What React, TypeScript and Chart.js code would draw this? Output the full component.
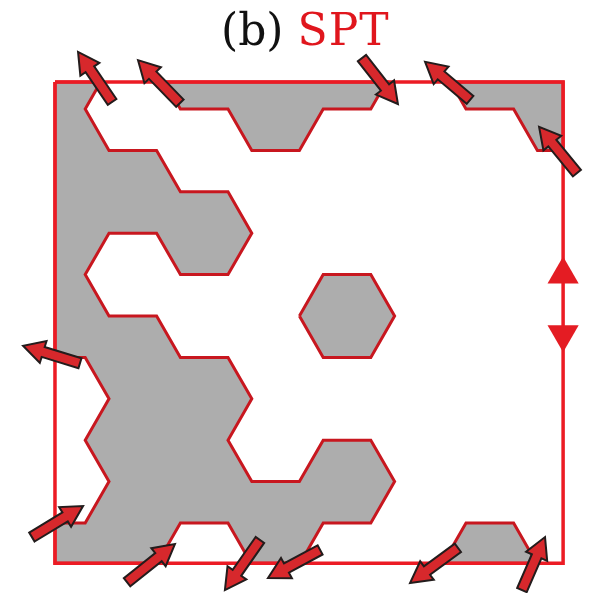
import React, { useEffect, useRef } from 'react';
import { Chart, registerables } from 'chart.js';

Chart.register(...registerables);

// Coordinates in hexagonal-lattice units: x = half a hexagon side, y = half a hexagon height
const frameX = [-12.27, 9.08];
const frameY = [-5.65, 5.97];

const mainRegion: [number, number][] = [
  [-12.27, -5.65], [-10.35, -5.65], [-11, -5], [-10, -4], [-8, -4], [-7, -3], [-5, -3],
  [-4, -2], [-5, -1], [-7, -1], [-8, -2], [-10, -2], [-11, -1], [-10, 0], [-8, 0],
  [-7, 1], [-5, 1], [-4, 2], [-5, 3], [-4, 4], [-2, 4], [-1, 3], [1, 3], [2, 4],
  [1, 5], [-1, 5], [-1.97, 5.97], [-4.03, 5.97], [-5, 5], [-7, 5], [-7.97, 5.97],
  [-12.27, 5.97], [-12.27, 5], [-11, 5], [-10, 4], [-11, 3], [-10, 2], [-11, 1],
  [-12.27, 1], [-12.27, -5.65],
];
const topStrip: [number, number][] = [
  [-7.65, -5.65], [-7, -5], [-5, -5], [-4, -4], [-2, -4], [-1, -5], [1, -5], [1.65, -5.65], [-7.65, -5.65],
];
const topRightCorner: [number, number][] = [
  [4.35, -5.65], [5, -5], [7, -5], [8, -4], [9.08, -4], [9.08, -5.65], [4.35, -5.65],
];
const bottomRightPatch: [number, number][] = [
  [4.03, 5.97], [5, 5], [7, 5], [7.97, 5.97], [4.03, 5.97],
];
const centralHexagon: [number, number][] = [
  [-2, 0], [-1, -1], [1, -1], [2, 0], [1, 1], [-1, 1], [-2, 0],
];

const arrowTails: [number, number][] = [
  [-9.87, -5.17], [-7.02, -5.14], [0.63, -6.23], [5.17, -5.22], [9.66, -3.45], [-11.22, 1.14],
  [-13.24, 5.34], [-9.24, 6.43], [-3.66, 5.41], [-1.13, 5.65], [4.66, 5.6], [7.35, 6.62],
];
const arrowTips: [number, number][] = [
  [-11.3, -6.38], [-8.78, -6.18], [2.14, -5.12], [3.28, -6.14], [8.07, -4.57], [-13.61, 0.72],
  [-11.09, 4.59], [-7.23, 5.51], [-5.13, 6.62], [-3.32, 6.33], [2.65, 6.45], [8.32, 5.34],
];

const triangleX = [9.08, 9.08];
const triangleY = [-1.0, 0.44];
const triangleRotation = [0, 180];

const toPoints = (poly: [number, number][]) => poly.map(([x, y]) => ({ x, y }));

const arrowPlugin = {
  id: 'arrows',
  afterDatasetsDraw(chart: any) {
    const { ctx } = chart;
    const sx = chart.scales.x;
    const sy = chart.scales.y;
    ctx.save();
    arrowTails.forEach((tail, i) => {
      const tip = arrowTips[i];
      const x0 = sx.getPixelForValue(tail[0]);
      const y0 = sy.getPixelForValue(tail[1]);
      const x1 = sx.getPixelForValue(tip[0]);
      const y1 = sy.getPixelForValue(tip[1]);
      const dx = x1 - x0;
      const dy = y1 - y0;
      const len = Math.hypot(dx, dy);
      const ux = dx / len;
      const uy = dy / len;
      const nx = -uy;
      const ny = ux;
      const hl = 21;
      const hw = 11.5;
      const sw = 5.2;
      const bx = x1 - ux * hl;
      const by = y1 - uy * hl;
      ctx.beginPath();
      ctx.moveTo(x0 + nx * sw, y0 + ny * sw);
      ctx.lineTo(bx + nx * sw, by + ny * sw);
      ctx.lineTo(bx + nx * hw, by + ny * hw);
      ctx.lineTo(x1, y1);
      ctx.lineTo(bx - nx * hw, by - ny * hw);
      ctx.lineTo(bx - nx * sw, by - ny * sw);
      ctx.lineTo(x0 - nx * sw, y0 - ny * sw);
      ctx.closePath();
      ctx.fillStyle = '#d7282c';
      ctx.fill();
      ctx.lineWidth = 2;
      ctx.lineJoin = 'miter';
      ctx.strokeStyle = '#231c1c';
      ctx.stroke();
    });
    ctx.restore();
  },
};

export default function App() {
  const canvasRef = useRef<HTMLCanvasElement | null>(null);

  useEffect(() => {
    if (!canvasRef.current) return;
    const region = (data: [number, number][]) => ({
      type: 'scatter' as const,
      data: toPoints(data),
      showLine: true,
      fill: 'shape',
      backgroundColor: '#adadad',
      borderColor: '#c8171f',
      borderWidth: 3,
      borderJoinStyle: 'miter' as const,
      pointRadius: 0,
      tension: 0,
      order: 2,
    });
    const frame: [number, number][] = [
      [frameX[0], frameY[0]], [frameX[1], frameY[0]], [frameX[1], frameY[1]],
      [frameX[0], frameY[1]], [frameX[0], frameY[0]],
    ];
    const chart = new Chart(canvasRef.current, {
      type: 'scatter',
      data: {
        datasets: [
          {
            data: triangleX.map((x, i) => ({ x, y: triangleY[i] })),
            pointStyle: 'triangle',
            pointRadius: 18,
            rotation: triangleRotation,
            backgroundColor: '#e41c23',
            borderWidth: 0,
            order: 0,
            clip: false,
          } as any,
          {
            data: toPoints(frame),
            showLine: true,
            fill: false,
            borderColor: '#ec1b24',
            borderWidth: 3.5,
            borderJoinStyle: 'miter',
            pointRadius: 0,
            order: 1,
          } as any,
          region(mainRegion) as any,
          region(topStrip) as any,
          region(topRightCorner) as any,
          region(bottomRightPatch) as any,
          region(centralHexagon) as any,
        ],
      },
      options: {
        animation: false,
        responsive: false,
        layout: { padding: 0, autoPadding: false },
        events: [],
        plugins: { legend: { display: false }, tooltip: { enabled: false } },
        scales: {
          x: { type: 'linear', min: -14.58, max: 10.546, display: false },
          y: { type: 'linear', min: -7.633, max: 6.691, reverse: true, display: false },
        },
      },
      plugins: [arrowPlugin],
    });
    return () => chart.destroy();
  }, []);

  return (
    <div style={{ position: 'fixed', left: 0, top: 0, width: 598, height: 593, background: '#ffffff' }}>
      <canvas ref={canvasRef} width={598} height={593} style={{ position: 'absolute', left: 0, top: 0 }} />
      <div
        style={{
          position: 'absolute',
          left: 221,
          top: 4,
          fontFamily: '"DejaVu Serif", serif',
          fontSize: 44,
          lineHeight: 'normal',
          whiteSpace: 'nowrap',
          color: '#111111',
        }}
      >
        (b) <span style={{ color: '#e0161d', letterSpacing: 1 }}>SPT</span>
      </div>
    </div>
  );
}
